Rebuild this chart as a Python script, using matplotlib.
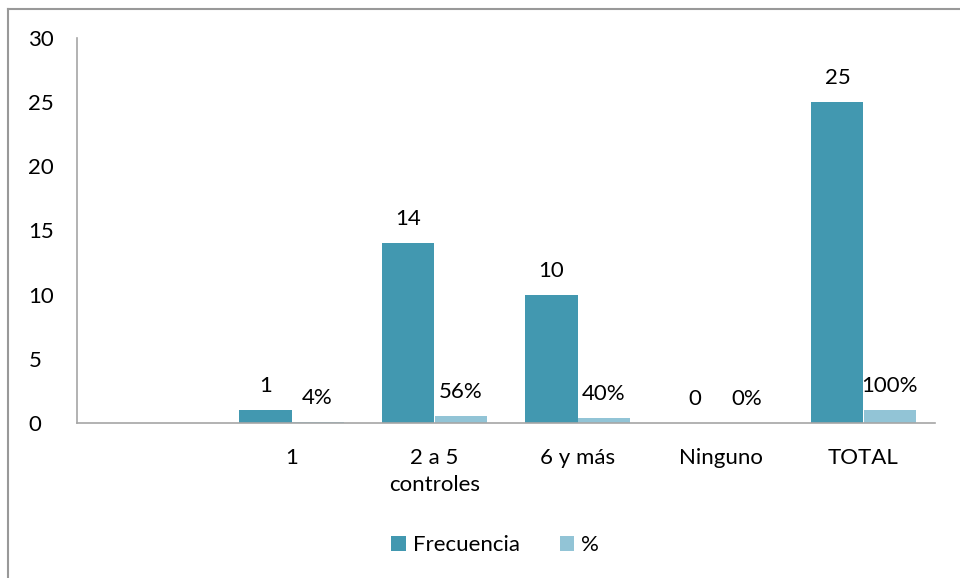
import matplotlib.pyplot as plt
import numpy as np
from matplotlib.lines import Line2D

categories = ['', '1', '2 a 5\ncontroles', '6 y más', 'Ninguno', 'TOTAL']
frecuencia = [np.nan, 1, 14, 10, 0, 25]
porcentaje = [np.nan, 0.04, 0.56, 0.40, 0.0, 1.0]
pct_labels = ['', '4%', '56%', '40%', '0%', '100%']

dark = '#4298b0'
light = '#92c4d6'
fs = 16

plt.rcParams['font.family'] = ['Lato', 'DejaVu Sans']

fig = plt.figure(figsize=(9.6, 5.78), dpi=100)
ax = fig.add_axes([77 / 960, 1 - 423 / 578, 858 / 960, (423 - 38) / 578])

x = np.arange(len(categories))
w = 0.364
off = 0.182
ax.bar(x - off, frecuencia, width=w, color=dark, label='Frecuencia')
ax.bar(x + off, porcentaje, width=w, color=light, label='%')

for i in range(1, len(categories)):
    ax.text(x[i] - off, frecuencia[i] + 1.1, str(frecuencia[i]), ha='center', va='bottom', fontsize=fs)
    ax.text(x[i] + off, porcentaje[i] + 1.1, pct_labels[i], ha='center', va='bottom', fontsize=fs)

ax.set_xlim(-0.5, 5.5)
ax.set_ylim(0, 30)
ax.set_yticks(range(0, 31, 5))
ax.set_xticks(x)
ax.set_xticklabels(categories, fontsize=fs, linespacing=1.45, va='top')
ax.tick_params(axis='y', length=0, labelsize=fs, pad=35)
ax.tick_params(axis='x', length=0, pad=18)
for lbl in ax.get_yticklabels():
    lbl.set_horizontalalignment('left')

for s in ['top', 'right']:
    ax.spines[s].set_visible(False)
ax.spines['left'].set_color('#a6a6a6')
ax.spines['bottom'].set_color('#a6a6a6')
ax.spines['left'].set_linewidth(1.2)
ax.spines['bottom'].set_linewidth(1.2)

fig.legend(loc='center', bbox_to_anchor=(495 / 960, 1 - 545 / 578), ncol=2, frameon=False,
           fontsize=fs, handlelength=0.65, handleheight=0.65, handletextpad=0.3, columnspacing=1.8)

# outer frame (only left and top edges visible)
fig.add_artist(Line2D([8 / 960, 8 / 960], [0, 1 - 9 / 578], transform=fig.transFigure, color='#999999', lw=1.5))
fig.add_artist(Line2D([8 / 960, 1], [1 - 9 / 578, 1 - 9 / 578], transform=fig.transFigure, color='#999999', lw=1.5))

fig.savefig('out.png', dpi=100)
